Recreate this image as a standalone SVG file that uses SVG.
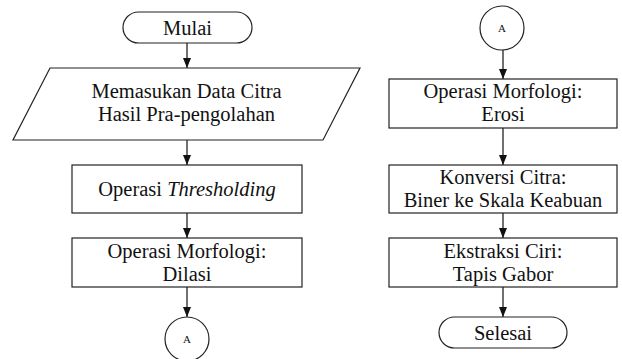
<svg xmlns="http://www.w3.org/2000/svg" width="622" height="359" viewBox="0 0 622 359">
<defs>
<style>
.s{fill:#fff;stroke:#222;stroke-width:1.2}
.t{font-family:'Liberation Serif','Times New Roman',Times,'DejaVu Serif',serif;font-size:20.5px;fill:#111;text-anchor:middle}
.a{font-family:'Liberation Serif','Times New Roman',Times,'DejaVu Serif',serif;font-size:11px;fill:#111;text-anchor:middle}
.c{stroke:#111;stroke-width:1.2;fill:none;marker-end:url(#ah)}
</style>
<marker id="ah" viewBox="0 0 10 8" refX="10" refY="4" markerWidth="10" markerHeight="8" markerUnits="userSpaceOnUse" orient="auto">
<path d="M0,0 L10,4 L0,8 Z" fill="#111"/>
</marker>
</defs>
<rect width="622" height="359" fill="#fff"/>
<g id="connectors">
<line class="c" x1="187" y1="43" x2="187" y2="68"/>
<line class="c" x1="187" y1="140" x2="187" y2="165"/>
<line class="c" x1="187" y1="213" x2="187" y2="238"/>
<line class="c" x1="187" y1="287" x2="187" y2="317"/>
<line class="c" x1="503" y1="50" x2="503" y2="79"/>
<line class="c" x1="503" y1="128" x2="503" y2="165"/>
<line class="c" x1="503" y1="213" x2="503" y2="238"/>
<line class="c" x1="503" y1="287" x2="503" y2="317"/>
</g>
<g id="mulai">
<rect class="s" x="123" y="12" width="129" height="31" rx="15.5"/>
<text class="t" x="187.5" y="34.5" font-family="Liberation Serif, serif">Mulai</text>
</g>
<g id="input">
<polygon class="s" points="50,68 360,68 323,140 13,140"/>
<text class="t" x="186.5" y="98">Memasukan Data Citra</text>
<text class="t" x="186.5" y="121">Hasil Pra-pengolahan</text>
</g>
<g id="threshold">
<rect class="s" x="72" y="165" width="230" height="48"/>
<text class="t" x="187" y="196">Operasi <tspan font-style="italic">Thresholding</tspan></text>
</g>
<g id="dilasi">
<rect class="s" x="72" y="238" width="230" height="49"/>
<text class="t" x="187" y="257.5">Operasi Morfologi:</text>
<text class="t" x="187" y="280.5">Dilasi</text>
</g>
<g id="connA1">
<circle class="s" cx="187" cy="339" r="22"/>
<text class="a" x="187" y="343">A</text>
</g>
<g id="connA2">
<circle class="s" cx="502" cy="28" r="22"/>
<text class="a" x="502" y="32">A</text>
</g>
<g id="erosi">
<rect class="s" x="389" y="79" width="228" height="49"/>
<text class="t" x="503" y="98">Operasi Morfologi:</text>
<text class="t" x="503" y="121">Erosi</text>
</g>
<g id="konversi">
<rect class="s" x="389" y="165" width="228" height="48"/>
<text class="t" x="503" y="184">Konversi Citra:</text>
<text class="t" x="503" y="207">Biner ke Skala Keabuan</text>
</g>
<g id="ekstraksi">
<rect class="s" x="389" y="238" width="228" height="49"/>
<text class="t" x="503" y="257.5">Ekstraksi Ciri:</text>
<text class="t" x="503" y="280.5">Tapis Gabor</text>
</g>
<g id="selesai">
<rect class="s" x="439" y="317" width="128" height="31" rx="15.5"/>
<text class="t" x="503" y="339.5">Selesai</text>
</g>
</svg>
